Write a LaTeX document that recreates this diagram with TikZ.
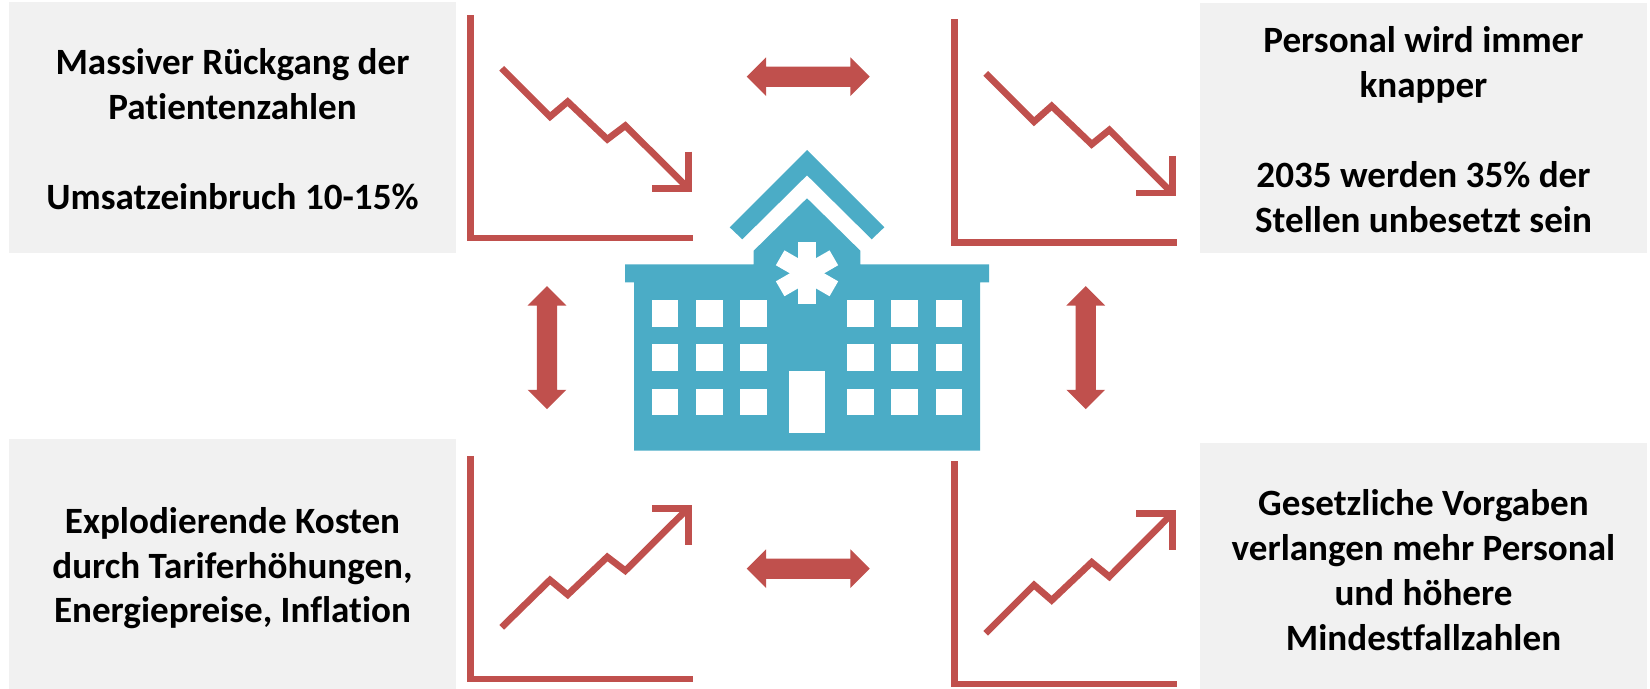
\documentclass[tikz,border=0pt]{standalone}
\usepackage{fontspec}
\setmainfont[Ligatures=NoCommon]{Carlito}
\usetikzlibrary{shapes.arrows}
\definecolor{chartred}{HTML}{C0504D}
\definecolor{hospblue}{HTML}{4BACC6}
\definecolor{panelgray}{HTML}{F1F1F1}
\tikzset{
  paneltext/.style={inner sep=0pt,align=center,anchor=base,text=black,font=\fontsize{18.55pt}{22.45pt}\selectfont\bfseries},
  axisline/.style={draw=chartred,line width=3.35pt,miter limit=10},
  trendline/.style={draw=chartred,line width=3.35pt,miter limit=10},
  hbigarrow/.style={double arrow,fill=chartred,draw=none,inner xsep=0pt,inner ysep=4.85pt,minimum height=61.5pt,double arrow head extend=4.65pt,double arrow head indent=0pt},
  vbigarrow/.style={hbigarrow,rotate=90},
  hospital/.style={fill=hospblue,draw=none},
  cutout/.style={fill=white,draw=none}
}
\begin{document}
\begin{tikzpicture}[x=0.5pt,y=-0.5pt]
\useasboundingbox (0,0) rectangle (1650,689);
% panels
\fill[panelgray] (9,2) rectangle (456,253.5);
\fill[panelgray] (1200,3) rectangle (1647,252.7);
\fill[panelgray] (9,439) rectangle (456,689);
\fill[panelgray] (1200,443) rectangle (1647,689);
\node[paneltext] (t1) at (232.5,209.7) {Massiver Rückgang der\\Patientenzahlen\\[22.45pt]Umsatzeinbruch 10-15\%};
\node[paneltext] (t2) at (1423.5,232.5) {Personal wird immer\\knapper\\[22.45pt]2035 werden 35\% der\\Stellen unbesetzt sein};
\node[paneltext] (t3) at (232.5,623) {Explodierende Kosten\\durch Tariferhöhungen,\\Energiepreise, Inflation};
\node[paneltext] (t4) at (1423.5,650.3) {Gesetzliche Vorgaben\\verlangen mehr Personal\\und höhere\\Mindestfallzahlen};
% chart top left
\draw[axisline] (470.7,15.3) -- (470.7,238) -- (692.7,238);
\draw[trendline] (501.7,68.3) -- (550,116.7) -- (567.7,101.7) -- (607.3,139.3) -- (625.3,125.7) -- (688,188);
\draw[trendline] (688.3,151.7) -- (688.3,188.3) -- (652,188.3);
% chart top right
\draw[axisline] (954.7,19.3) -- (954.7,242.7) -- (1176.7,242.7);
\draw[trendline] (985.7,73.3) -- (1034,121.7) -- (1051.7,106) -- (1091.7,144.3) -- (1109.3,130) -- (1172,193);
\draw[trendline] (1172.3,156) -- (1172.3,193) -- (1136,193);
% chart bottom left
\draw[axisline] (470.7,456) -- (470.7,679) -- (692.7,679);
\draw[trendline] (501.7,627.3) -- (550,580) -- (567.7,594.7) -- (607.3,557) -- (625.3,570.7) -- (688,508.3);
\draw[trendline] (652,508.3) -- (688.3,508.3) -- (688.3,545);
% chart bottom right
\draw[axisline] (954.7,461.3) -- (954.7,684) -- (1176.7,684);
\draw[trendline] (985.7,633.3) -- (1034,585) -- (1051.7,600.3) -- (1091.7,562.3) -- (1109.3,576.7) -- (1172,513.7);
\draw[trendline] (1136,513.7) -- (1172.3,513.7) -- (1172.3,550.3);
% double arrows
\node[hbigarrow] (atop) at (808.2,76.7) {};
\node[hbigarrow] (abot) at (808.2,568.7) {};
\node[vbigarrow] (aleft) at (547,347.7) {};
\node[vbigarrow] (aright) at (1085.7,347.7) {};
% hospital
\fill[hospital] (807,150) -- (884.3,227.3) -- (871.7,239.3) -- (807,175.3) -- (742.3,239.3) -- (729.7,227.3) -- cycle;
\fill[hospital] (807,198.3) -- (860.3,250.7) -- (860.3,264.3) -- (989,264.3) -- (989,282.3) -- (980,282.3) -- (980,450.7) -- (634,450.7) -- (634,282.3) -- (625,282.3) -- (625,264.3) -- (753.7,264.3) -- (753.7,250.7) -- cycle;
\foreach \wx in {651.7,696,740.3,847,891.3,935.7}
  \foreach \wy in {300,344.3,388.7}
    \fill[cutout] (\wx,\wy) rectangle ++(26.7,26.7);
\fill[cutout] (789,371) rectangle (825,433.3);
\foreach \ang in {0,60,120}
  \fill[cutout,rotate around={\ang:(807,273.3)}] (798.4,242.3) rectangle (815.6,304.3);
\end{tikzpicture}
\end{document}
